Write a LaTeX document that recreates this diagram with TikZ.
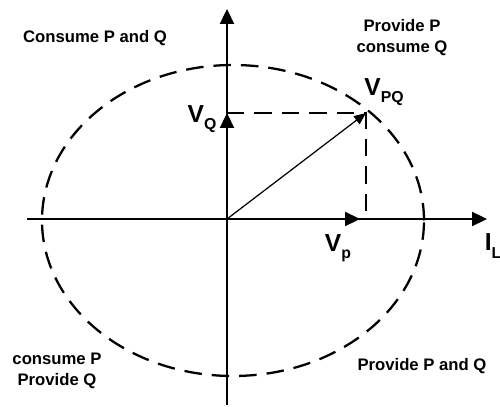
\documentclass[tikz,border=0pt]{standalone}
\usepackage{fontspec}
\setmainfont{Liberation Sans}
\usetikzlibrary{arrows.meta}
\newcommand{\phsub}[1]{\raisebox{-0.55ex}{\fontsize{9}{10}\selectfont #1}}
\tikzset{
  axisln/.style = {line width=1.3pt, -{Triangle[length=3mm, width=2.8mm]}},
  phasor/.style = {line width=0.7pt, -{Triangle[length=2.4mm, width=2mm]}},
  dashln/.style = {line width=1.3pt, dash pattern=on 3.5mm off 2mm},
  region/.style = {font=\bfseries\fontsize{9.5}{12}\selectfont, align=center,
                   inner sep=0pt},
  vlbl/.style   = {font=\bfseries\fontsize{14}{15}\selectfont, inner sep=0pt},
}
\begin{document}
\begin{tikzpicture}[x=0.02cm, y=0.02cm]
    \useasboundingbox (-227,-187) rectangle (273,219);
    \coordinate (O)   at (0,0);
    \coordinate (xl)  at (-200,0);
    \coordinate (xr)  at (260,0);
    \coordinate (yb)  at (0,-186);
    \coordinate (yt)  at (0,210);
    \coordinate (Vpq) at (139,106);
    \coordinate (Vq)  at (0,106);
    \coordinate (Vpx) at (139,0);
    \coordinate (Vp)  at (133,0);

    % locus of the operating point
    \draw[dashln] (6,-1.5) ellipse [x radius=191, y radius=155.5];

    % axes and components
    \draw[axisln] (xl) -- (xr);
    \draw[axisln] (yb) -- (yt);
    \draw[axisln] (O) -- (Vq);
    \draw[axisln] (O) -- (Vp);
    \draw[dashln] (Vq) -- (Vpq) -- (Vpx);
    \draw[phasor] (O) -- (Vpq);

    \node[vlbl] (lpq) at (157,127) {V\phsub{PQ}};
    \node[vlbl] (lq)  at (-25,100) {V\phsub{Q}};
    \node[vlbl] (lp)  at (111,-29) {V\phsub{p}};
    \node[vlbl] (li)  at (266,-27) {I\phsub{L}};

    \node[region] (q2) at (-132,181) {Consume P and Q};
    \node[region] (q1) at (175,181) {Provide P\\consume Q};
    \node[region] (q3) at (-170,-152) {consume P\\Provide Q};
    \node[region] (q4) at (195,-147) {Provide P and Q};
\end{tikzpicture}
\end{document}
